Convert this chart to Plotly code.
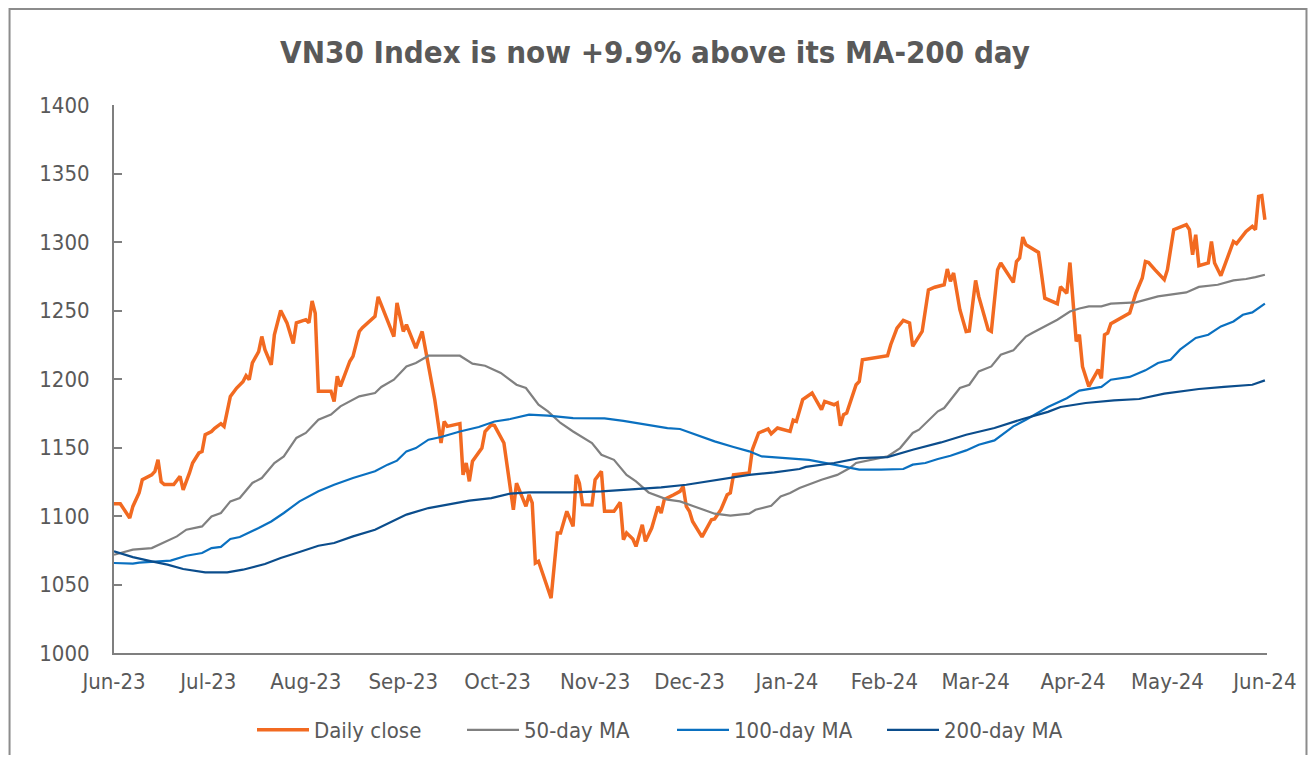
import plotly.graph_objects as go

# ---------------- data ----------------
close_dates = [
    "2023-06-01", "2023-06-03", "2023-06-06", "2023-06-07", "2023-06-09", "2023-06-10",
    "2023-06-13", "2023-06-14", "2023-06-15", "2023-06-16", "2023-06-17", "2023-06-20",
    "2023-06-22", "2023-06-23", "2023-06-25", "2023-06-26", "2023-06-28", "2023-06-29",
    "2023-06-30", "2023-07-02", "2023-07-03", "2023-07-05", "2023-07-06", "2023-07-08",
    "2023-07-10", "2023-07-12", "2023-07-13", "2023-07-14", "2023-07-15", "2023-07-17",
    "2023-07-18", "2023-07-19", "2023-07-21", "2023-07-22", "2023-07-24", "2023-07-26",
    "2023-07-28", "2023-07-29", "2023-08-01", "2023-08-02", "2023-08-03", "2023-08-04",
    "2023-08-05", "2023-08-09", "2023-08-10", "2023-08-11", "2023-08-12", "2023-08-15",
    "2023-08-16", "2023-08-18", "2023-08-19", "2023-08-23", "2023-08-24", "2023-08-29",
    "2023-08-30", "2023-09-01", "2023-09-02", "2023-09-05", "2023-09-07", "2023-09-08",
    "2023-09-11", "2023-09-13", "2023-09-14", "2023-09-15", "2023-09-19", "2023-09-20",
    "2023-09-21", "2023-09-22", "2023-09-23", "2023-09-26", "2023-09-27", "2023-09-29",
    "2023-09-30", "2023-10-03", "2023-10-05", "2023-10-06", "2023-10-07", "2023-10-10",
    "2023-10-11", "2023-10-12", "2023-10-13", "2023-10-14", "2023-10-18", "2023-10-20",
    "2023-10-21", "2023-10-23", "2023-10-25", "2023-10-26", "2023-10-27", "2023-10-28",
    "2023-10-31", "2023-11-01", "2023-11-03", "2023-11-04", "2023-11-07", "2023-11-09",
    "2023-11-10", "2023-11-11", "2023-11-13", "2023-11-14", "2023-11-16", "2023-11-17",
    "2023-11-19", "2023-11-21", "2023-11-22", "2023-11-23", "2023-11-26", "2023-11-28",
    "2023-11-29", "2023-11-30", "2023-12-01", "2023-12-02", "2023-12-05", "2023-12-07",
    "2023-12-08", "2023-12-09", "2023-12-11", "2023-12-13", "2023-12-14", "2023-12-15",
    "2023-12-20", "2023-12-21", "2023-12-23", "2023-12-26", "2023-12-27", "2023-12-29",
    "2023-12-31", "2024-01-02", "2024-01-03", "2024-01-04", "2024-01-06", "2024-01-09",
    "2024-01-12", "2024-01-13", "2024-01-16", "2024-01-17", "2024-01-18", "2024-01-19",
    "2024-01-20", "2024-01-23", "2024-01-24", "2024-01-25", "2024-02-02", "2024-02-03",
    "2024-02-05", "2024-02-07", "2024-02-09", "2024-02-10", "2024-02-13", "2024-02-15",
    "2024-02-17", "2024-02-20", "2024-02-21", "2024-02-22", "2024-02-23", "2024-02-25",
    "2024-02-27", "2024-02-28", "2024-03-01", "2024-03-02", "2024-03-05", "2024-03-06",
    "2024-03-08", "2024-03-09", "2024-03-13", "2024-03-14", "2024-03-15", "2024-03-16",
    "2024-03-17", "2024-03-21", "2024-03-22", "2024-03-23", "2024-03-27", "2024-03-28",
    "2024-03-30", "2024-03-31", "2024-04-02", "2024-04-03", "2024-04-04", "2024-04-06",
    "2024-04-09", "2024-04-10", "2024-04-11", "2024-04-12", "2024-04-13", "2024-04-19",
    "2024-04-21", "2024-04-23", "2024-04-24", "2024-04-25", "2024-04-27", "2024-04-30",
    "2024-05-01", "2024-05-03", "2024-05-07", "2024-05-08", "2024-05-09", "2024-05-10",
    "2024-05-11", "2024-05-14", "2024-05-15", "2024-05-16", "2024-05-18", "2024-05-22",
    "2024-05-23", "2024-05-26", "2024-05-28", "2024-05-29", "2024-05-30", "2024-05-31",
    "2024-06-01",
]
close_vals = [
    1109, 1109, 1098.5, 1107, 1117, 1126.5,
    1130, 1132.6, 1141, 1125, 1123, 1123,
    1129, 1119, 1131.4, 1138.7, 1146, 1147,
    1159.3, 1161.7, 1164, 1167.4, 1165.4, 1187.3,
    1193.4, 1198, 1202.4, 1199.5, 1211.7, 1220,
    1231, 1221.4, 1210.4, 1232.3, 1250, 1241,
    1226, 1241, 1243.3, 1241, 1257, 1248,
    1191, 1191, 1183.6, 1202, 1194.6, 1213,
    1216.5, 1234.7, 1237.5, 1245.7, 1260, 1231,
    1255.5, 1234.7, 1239.6, 1222.6, 1234.7, 1221.4,
    1185, 1153.3, 1169, 1165.4, 1167.4, 1130,
    1138.7, 1125.3, 1140, 1149.6, 1161.7, 1166.6,
    1166, 1153.3, 1121.6, 1104.6, 1124, 1107,
    1115.5, 1109.5, 1065.7, 1067, 1040, 1087.6,
    1087.6, 1103.4, 1092.4, 1130, 1124, 1108.3,
    1108, 1126.5, 1132.6, 1103.4, 1103.4, 1110,
    1082.7, 1087.6, 1083.2, 1077.8, 1093.6, 1081.5,
    1091.2, 1107, 1102.2, 1112, 1115.5, 1118,
    1121.6, 1107, 1103.4, 1096, 1084.7, 1093.6,
    1097.3, 1097.8, 1104.6, 1115.5, 1116.8, 1130,
    1131.4, 1148.4, 1160.6, 1163.5, 1160, 1164.2,
    1163, 1161.7, 1170, 1169, 1184.9, 1189.8,
    1177.6, 1183.6, 1181.2, 1182.5, 1165.9, 1174,
    1175.2, 1195.8, 1198.2, 1214, 1217, 1225,
    1237.2, 1242.8, 1240.9, 1223.8, 1234.7, 1265,
    1267, 1268.8, 1280.3, 1271.3, 1277.4, 1250.6,
    1234.7, 1235, 1272, 1260.3, 1236, 1234.7,
    1279.8, 1284.7, 1270.5, 1285.8, 1288.3, 1303.6,
    1298, 1292.4, 1276, 1259, 1255, 1267.3,
    1262.5, 1285, 1227.4, 1232.3, 1209, 1194.6,
    1206.8, 1200.5, 1232.3, 1233.6, 1240.4, 1248.2,
    1262.8, 1273.7, 1285.8, 1285, 1279.8, 1272.5,
    1279.8, 1309, 1312.6, 1309, 1290.7, 1305.3,
    1282.7, 1284.7, 1300.4, 1284.7, 1275.4, 1300.4,
    1298.8, 1307.7, 1311.4, 1309, 1333.3, 1333.8,
    1316.3,
]

ma50_dates = [
    "2023-06-01", "2023-06-07", "2023-06-13", "2023-06-18", "2023-06-21", "2023-06-24",
    "2023-06-29", "2023-07-02", "2023-07-05", "2023-07-08", "2023-07-11", "2023-07-15",
    "2023-07-18", "2023-07-22", "2023-07-25", "2023-07-29", "2023-08-01", "2023-08-05",
    "2023-08-09", "2023-08-12", "2023-08-15", "2023-08-18", "2023-08-23", "2023-08-25",
    "2023-08-29", "2023-09-02", "2023-09-05", "2023-09-09", "2023-09-19", "2023-09-23",
    "2023-09-27", "2023-10-02", "2023-10-07", "2023-10-10", "2023-10-14", "2023-10-17",
    "2023-10-21", "2023-10-25", "2023-10-31", "2023-11-03", "2023-11-07", "2023-11-11",
    "2023-11-14", "2023-11-18", "2023-11-24", "2023-11-28", "2023-12-03", "2023-12-09",
    "2023-12-14", "2023-12-20", "2023-12-22", "2023-12-27", "2023-12-30", "2024-01-02",
    "2024-01-05", "2024-01-12", "2024-01-17", "2024-01-21", "2024-01-23", "2024-02-02",
    "2024-02-06", "2024-02-10", "2024-02-12", "2024-02-18", "2024-02-20", "2024-02-25",
    "2024-02-28", "2024-03-02", "2024-03-06", "2024-03-09", "2024-03-13", "2024-03-17",
    "2024-03-19", "2024-03-24", "2024-03-27", "2024-03-31", "2024-04-03", "2024-04-06",
    "2024-04-10", "2024-04-13", "2024-04-21", "2024-04-28", "2024-05-04", "2024-05-07",
    "2024-05-11", "2024-05-17", "2024-05-22", "2024-05-26", "2024-05-29", "2024-06-01",
]
ma50_vals = [
    1071.7, 1075.4, 1076.6, 1082.2, 1085.1, 1090,
    1092.4, 1099.7, 1102.2, 1110.7, 1113.1, 1124.1,
    1127.7, 1138.7, 1143.5, 1157, 1160.6, 1170.3,
    1174, 1180, 1183.6, 1187.3, 1189.8, 1194.2,
    1199.5, 1209.2, 1211.7, 1217, 1217, 1211.2,
    1209.7, 1204.4, 1195.8, 1193.4, 1181.2, 1176.4,
    1167.9, 1161.7, 1153.3, 1144.7, 1141, 1130,
    1125.3, 1117.2, 1112, 1110.7, 1106.6, 1101.7,
    1100.3, 1101.7, 1104.6, 1107.5, 1114.3, 1116.8,
    1120.4, 1126.5, 1130, 1135, 1138.7, 1143.5,
    1149.6, 1160.6, 1163, 1176.4, 1178.8, 1193.4,
    1195.8, 1205.5, 1209.2, 1217.7, 1220.9, 1231,
    1233.6, 1239.6, 1243.3, 1249.3, 1251.5, 1253,
    1253, 1255, 1255.9, 1260.3, 1262.3, 1263.2,
    1267.2, 1268.8, 1272, 1273, 1274.4, 1276.1,
]

ma100_dates = [
    "2023-06-01", "2023-06-07", "2023-06-09", "2023-06-19", "2023-06-24", "2023-06-29",
    "2023-07-02", "2023-07-05", "2023-07-08", "2023-07-11", "2023-07-17", "2023-07-21",
    "2023-07-25", "2023-07-30", "2023-08-05", "2023-08-10", "2023-08-16", "2023-08-23",
    "2023-08-27", "2023-08-30", "2023-09-02", "2023-09-05", "2023-09-09", "2023-09-13",
    "2023-09-19", "2023-09-25", "2023-09-30", "2023-10-05", "2023-10-11", "2023-10-17",
    "2023-10-25", "2023-11-04", "2023-11-10", "2023-11-18", "2023-11-24", "2023-11-28",
    "2023-12-04", "2023-12-09", "2023-12-15", "2023-12-20", "2023-12-24", "2023-12-31",
    "2024-01-08", "2024-01-16", "2024-01-20", "2024-01-24", "2024-01-31", "2024-02-07",
    "2024-02-10", "2024-02-14", "2024-02-18", "2024-02-22", "2024-02-27", "2024-03-02",
    "2024-03-07", "2024-03-13", "2024-03-17", "2024-03-24", "2024-03-30", "2024-04-03",
    "2024-04-10", "2024-04-13", "2024-04-19", "2024-04-24", "2024-04-28", "2024-05-02",
    "2024-05-05", "2024-05-10", "2024-05-14", "2024-05-18", "2024-05-22", "2024-05-25",
    "2024-05-28", "2024-06-01",
]
ma100_vals = [
    1065.7, 1065.2, 1066, 1067.4, 1071, 1073,
    1076.6, 1077.4, 1083.2, 1084.7, 1091.2, 1096,
    1102.2, 1110.7, 1118, 1122.8, 1127.7, 1132.6,
    1137.5, 1140.4, 1147.2, 1149.6, 1155.7, 1157.7,
    1161.7, 1165, 1169, 1170.8, 1174, 1173.2,
    1171.5, 1171.2, 1169.5, 1166.6, 1164.2, 1163.5,
    1158.6, 1154.5, 1150.4, 1147.2, 1143.5, 1142.3,
    1141, 1137.5, 1135.8, 1133.8, 1133.8, 1134.3,
    1137.5, 1138.7, 1141.6, 1144, 1147.9, 1152,
    1155.2, 1165.4, 1170.3, 1179.6, 1186, 1191.5,
    1194.2, 1199.5, 1201.5, 1206.3, 1211.7, 1214,
    1221.4, 1230, 1232.3, 1238.4, 1242, 1246.9,
    1248.6, 1255,
]

ma200_dates = [
    "2023-06-01", "2023-06-07", "2023-06-13", "2023-06-18", "2023-06-23", "2023-06-30",
    "2023-07-07", "2023-07-12", "2023-07-19", "2023-07-24", "2023-07-30", "2023-08-05",
    "2023-08-10", "2023-08-16", "2023-08-23", "2023-08-28", "2023-09-02", "2023-09-09",
    "2023-09-16", "2023-09-22", "2023-09-29", "2023-10-05", "2023-10-11", "2023-10-24",
    "2023-11-03", "2023-11-12", "2023-11-22", "2023-11-30", "2023-12-07", "2023-12-13",
    "2023-12-20", "2023-12-28", "2024-01-05", "2024-01-07", "2024-01-16", "2024-01-24",
    "2024-02-02", "2024-02-10", "2024-02-19", "2024-02-27", "2024-03-07", "2024-03-16",
    "2024-03-24", "2024-03-28", "2024-04-05", "2024-04-14", "2024-04-22", "2024-04-30",
    "2024-05-11", "2024-05-19", "2024-05-28", "2024-06-01",
]
ma200_vals = [
    1074.2, 1070, 1066.9, 1064.5, 1061.3, 1058.8,
    1058.8, 1060.8, 1065, 1069.4, 1073.7, 1078.3,
    1080.3, 1085.1, 1090, 1095.3, 1101, 1105.8,
    1109, 1111.2, 1113.1, 1116.3, 1117.2, 1117.2,
    1118, 1119.2, 1120.9, 1122.8, 1125.3, 1127,
    1130, 1131.8, 1134.3, 1135.8, 1138.7, 1142.3,
    1143, 1148.4, 1153.7, 1159.3, 1164.2, 1170.8,
    1176, 1179.6, 1182.5, 1184.4, 1185.4, 1189.3,
    1192.7, 1194.2, 1195.8, 1199,
]

series_names = ["Daily close", "50-day MA", "100-day MA", "200-day MA"]
y_ticks = [1000, 1050, 1100, 1150, 1200, 1250, 1300, 1350, 1400]
title_text = "VN30 Index is now +9.9% above its MA-200 day"

# ---------------- styling ----------------
FONT = "DejaVu Sans Condensed, DejaVu Sans, sans-serif"
TXT = "#595959"
AXIS = "#7F7F7F"

W, H = 1300, 747            # page body has an 8px margin
PL, PR, PT, PB = 105.5, 1259, 97, 645   # plot area in figure pixels
PW, PH = PR - PL, PB - PT

def px(x):
    return (x - PL) / PW

def py(y):
    return (PB - y) / PH

fig = go.Figure()
fig.add_trace(go.Scatter(x=close_dates, y=close_vals, name=series_names[0], mode="lines",
                         line=dict(color="#F26A21", width=3.5)))
fig.add_trace(go.Scatter(x=ma50_dates, y=ma50_vals, name=series_names[1], mode="lines",
                         line=dict(color="#808080", width=2.2)))
fig.add_trace(go.Scatter(x=ma100_dates, y=ma100_vals, name=series_names[2], mode="lines",
                         line=dict(color="#0A70C0", width=2.2)))
fig.add_trace(go.Scatter(x=ma200_dates, y=ma200_vals, name=series_names[3], mode="lines",
                         line=dict(color="#0B4D8C", width=2.2)))

# Outer chart border (Excel chart area frame)
fig.add_shape(type="rect", xref="paper", yref="paper",
              x0=px(1), x1=px(W - 1.5), y0=py(H + 20), y1=py(1),
              line=dict(color="#8C8C8C", width=2), fillcolor="rgba(0,0,0,0)", layer="below")

fig.update_layout(
    width=W, height=H,
    margin=dict(l=PL, r=W - PR, t=PT, b=H - PB, autoexpand=False),
    paper_bgcolor="white", plot_bgcolor="white",
    font=dict(family=FONT, color=TXT, size=22),
    title=dict(text="<b>" + title_text + "</b>", x=647 / W, xanchor="center",
               y=1 - 44 / H, yanchor="middle", yref="container",
               font=dict(family=FONT, size=31, color=TXT)),
    showlegend=True,
    legend=dict(orientation="h", xref="container", yref="container",
                x=244 / W, xanchor="left", y=1 - 722 / H, yanchor="middle",
                font=dict(family=FONT, size=22, color=TXT),
                entrywidth=143, entrywidthmode="pixels", itemwidth=52,
                bgcolor="rgba(0,0,0,0)"),
    xaxis=dict(type="date", range=["2023-06-01", "2024-06-01 16:00"],
               tickformat="%b-%y", dtick="M1", tick0="2023-06-01", automargin=False,
               showgrid=False, zeroline=False, showline=True, linecolor=AXIS, linewidth=2,
               ticks="", tickfont=dict(family=FONT, size=22, color=TXT),
               ticklabelstandoff=8),
    yaxis=dict(range=[1000, 1400], tickvals=y_ticks, showgrid=False, zeroline=False,
               automargin=False,
               showline=True, linecolor=AXIS, linewidth=2, ticks="inside", ticklen=8,
               tickwidth=2, tickcolor=AXIS, tickfont=dict(family=FONT, size=22, color=TXT),
               ticklabelstandoff=18),
)

fig.write_html("out.html")
